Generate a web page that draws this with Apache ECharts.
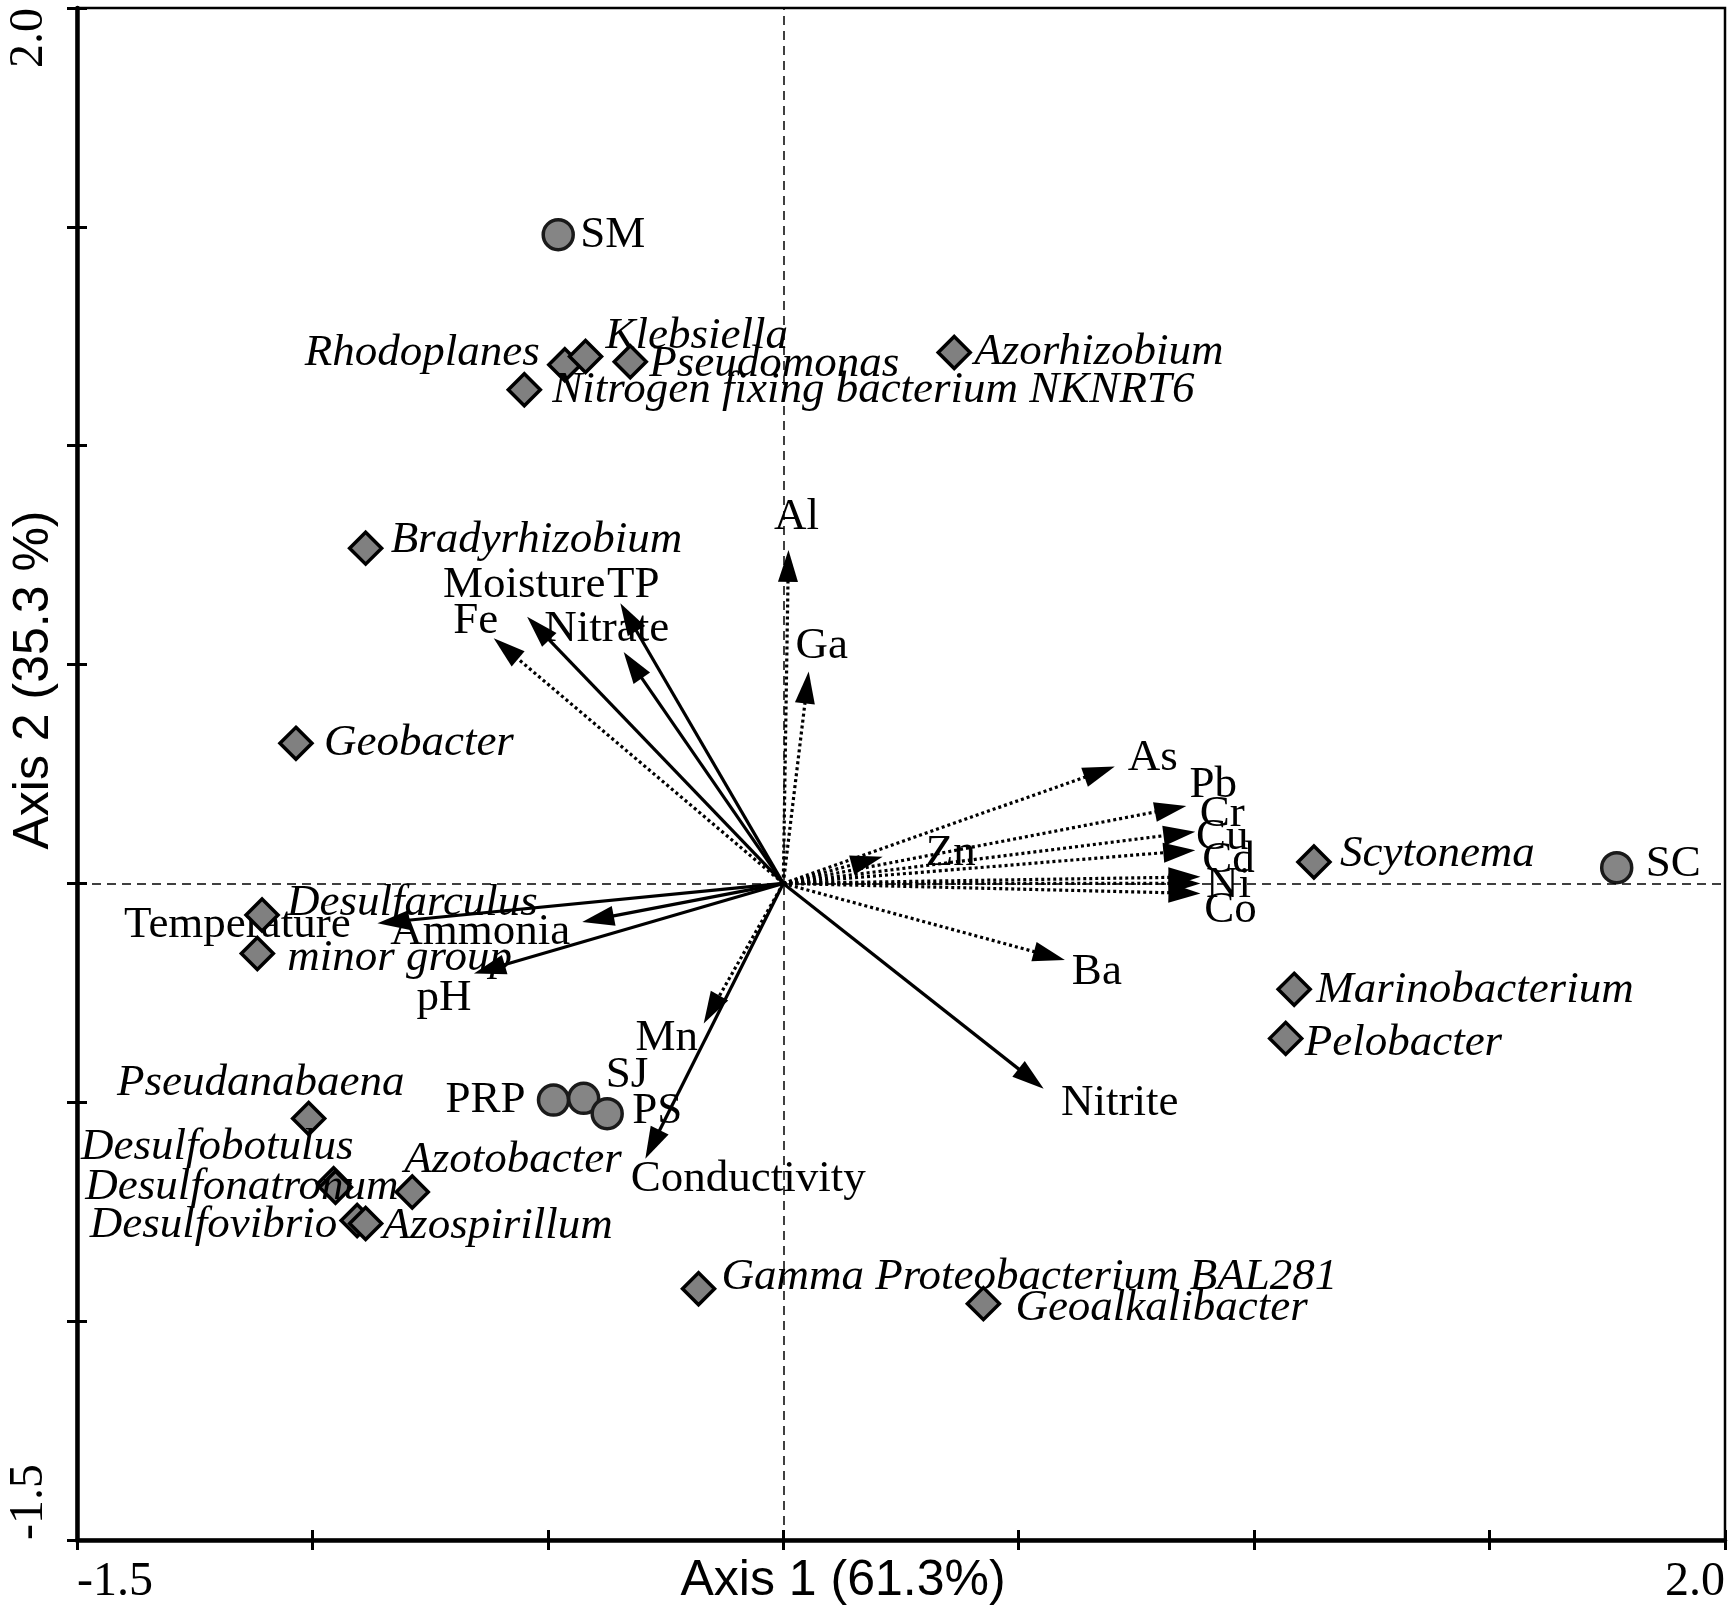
<!DOCTYPE html>
<html>
<head>
<meta charset="utf-8">
<title>CCA biplot</title>
<script src="https://cdn.jsdelivr.net/npm/echarts@6/dist/echarts.min.js"></script>
<style>
html,body{margin:0;padding:0;background:#fff;}
#chartBox{width:1733px;height:1610px;}
</style>
</head>
<body>
<div id="chartBox"></div>
<script>
// 样点
var siteNames=["SM","SC","PRP","SJ","PS"];
var siteX=[-0.478,1.770,-0.488,-0.424,-0.374];
var siteY=[1.482,0.036,-0.495,-0.491,-0.526];

// 物种
var speciesNames=["Rhodoplanes","Klebsiella","Pseudomonas","Nitrogen fixing bacterium NKNRT6","Azorhizobium",
    "Bradyrhizobium","Geobacter","Desulfarculus","minor group","Scytonema","Marinobacterium","Pelobacter",
    "Pseudanabaena","Desulfobotulus","Desulfonatronum","Azotobacter","Desulfovibrio","Azospirillum",
    "Gamma Proteobacterium BAL281","Geoalkalibacter"];
var speciesX=[-0.464,-0.420,-0.325,-0.550,0.363,-0.887,-1.035,-1.107,-1.117,1.127,1.085,1.067,
    -1.008,-0.955,-0.951,-0.788,-0.905,-0.887,-0.180,0.425];
var speciesY=[1.185,1.204,1.192,1.128,1.213,0.766,0.320,-0.072,-0.160,0.049,-0.242,-0.354,
    -0.537,-0.686,-0.694,-0.705,-0.770,-0.777,-0.926,-0.960];

// 环境因子 (箭头末端)
var envNames=["Temperature","Ammonia","pH","Moisture","TP","Nitrate","Fe","Al","Ga","Mn","Conductivity",
    "Nitrite","Ba","As","Pb","Cr","Cu","Cd","Ni","Co","Zn"];
var envX=[-0.862,-0.427,-0.657,-0.544,-0.346,-0.339,-0.615,0.011,0.054,-0.169,-0.293,
    0.553,0.598,0.704,0.856,0.875,0.875,0.886,0.886,0.886,0.211];
var envY=[-0.091,-0.088,-0.206,0.609,0.640,0.529,0.560,0.762,0.484,-0.320,-0.629,
    -0.469,-0.175,0.267,0.177,0.118,0.076,0.015,0.000,-0.023,0.061];
var envSolid=[1,1,1,1,1,1,0,0,0,0,1,1,0,0,0,0,0,0,0,0,0];

var xTickLabels=["-1.5","","","","","","","2.0"];
var yTickLabels=["-1.5","","","","","","","2.0"];

// 标签摆放 [对齐, dx, dy] (像素)
var siteLabelPos=[["left",22,0],["left",29,-3],["right",-28,0],["left",22,-23],["left",25,-2]];
var speciesLabelPos=[["right",-25,-12],["left",20,-20],["left",19,2],["left",28,0],["left",20,0],
    ["left",25,-8],["left",28,0],["left",25,-12],["left",30,5],["left",26,-8],["left",22,1],["left",19,5],
    ["center",-48,-35],["right",20,-37],["right",63,0],["left",-8,-32],["right",-20,5],["left",17,3],
    ["left",23,-12],["left",32,5]];
var envLabelPos=[[-140,2],[-102,10],[-30,25],[-3,-32],[13,-18],[-17,-23],[-18,-17],[8,-33],[13,-25],
    [-37,15],[103,20],[76,14],[32,12],[38,-8],[27,-21],[27,-18],[27,-13],[28,-17],[28,2],[30,17],[68,-4]];

var serif='"Liberation Serif","Times New Roman",serif';
var sans='"Liberation Sans",Arial,sans-serif';
var labelSize=45;

function tickFmt(list,min,step){
    return function(v){
        var idx=Math.round((v-min)/step);
        return list[idx]||'';
    };
};

function buildPoints(names,xs,ys,pos){
    var arr=[];
    for(var i=0;i<names.length;i++){
        arr.push({
            name:names[i],
            value:[xs[i],ys[i]],
            label:{align:pos[i][0],offset:[pos[i][1],pos[i][2]]}
        });
    };
    return arr;
};

function renderArrow(params,api){
    var i=params.dataIndex;
    var o=api.coord([0,0]);
    var p=api.coord([api.value(0),api.value(1)]);
    var dx=p[0]-o[0],dy=p[1]-o[1];
    var len=Math.sqrt(dx*dx+dy*dy);
    var ux=dx/len,uy=dy/len;
    var headL=Math.min(32,len*0.6),headW=10;
    var bx=p[0]-ux*headL,by=p[1]-uy*headL;
    var solid=api.value(2)===1;
    var lp=envLabelPos[i];
    return {
        type:'group',
        children:[
            {
                type:'line',
                shape:{x1:o[0],y1:o[1],x2:bx+ux*4,y2:by+uy*4},
                style:{stroke:'#000',lineWidth:3.2,lineDash:solid?null:[3,3]}
            },
            {
                type:'polygon',
                shape:{points:[[p[0],p[1]],[bx-uy*headW,by+ux*headW],[bx+uy*headW,by-ux*headW]]},
                style:{fill:'#000'}
            },
            {
                type:'text',
                x:p[0]+lp[0],
                y:p[1]+lp[1],
                style:{text:envNames[i],fill:'#000',font:labelSize+'px '+serif,align:'center',verticalAlign:'middle'}
            }
        ]
    };
};

function echart_CCA(id){
    var myChart=echarts.init(document.getElementById(id));

    var envData=[];
    for(var i=0;i<envNames.length;i++){
        envData.push([envX[i],envY[i],envSolid[i]]);
    };

    var axisBase={
        type:'value',
        splitLine:{show:false},
        axisLine:{show:true,onZero:false,lineStyle:{color:'#000',width:4.5}},
        axisTick:{show:true,inside:false,length:10,lineStyle:{color:'#000',width:3}}
    };

    var option={
        backgroundColor:'#fff',
        animation:false,
        grid:{
            left:77,right:8,top:8,bottom:70,
            show:true,borderColor:'#000',borderWidth:2.5,
            containLabel:false,outerBoundsMode:'none'
        },
        xAxis:[
            echarts.util.merge({
                min:-1.5,max:2,interval:0.5,position:'bottom',
                axisLabel:{
                    formatter:tickFmt(xTickLabels,-1.5,0.5),
                    color:'#000',fontFamily:serif,fontSize:48,margin:18,
                    showMinLabel:true,showMaxLabel:true,
                    alignMinLabel:'left',alignMaxLabel:'right'
                },
                name:'Axis 1 (61.3%)',
                nameLocation:'middle',
                nameGap:16,
                nameMoveOverlap:false,
                nameTextStyle:{color:'#000',fontFamily:sans,fontSize:50,padding:[0,116,0,0]}
            },axisBase,false),
            echarts.util.merge({
                min:-1.5,max:2,interval:0.5,position:'bottom',
                axisLine:{show:false},
                axisTick:{inside:true},
                axisLabel:{show:false}
            },axisBase,false)
        ],
        yAxis:[
            echarts.util.merge({
                min:-1.5,max:2,interval:0.5,position:'left',
                axisLabel:{
                    formatter:tickFmt(yTickLabels,-1.5,0.5),
                    color:'#000',fontFamily:serif,fontSize:48,margin:24,rotate:90,
                    showMinLabel:true,showMaxLabel:true,
                    alignMinLabel:'left',alignMaxLabel:'right'
                },
                name:'Axis 2 (35.3 %)',
                nameLocation:'middle',
                nameRotate:90,
                nameGap:18,
                nameMoveOverlap:false,
                nameTextStyle:{color:'#000',fontFamily:sans,fontSize:50,padding:[0,0,0,188]}
            },axisBase,false),
            echarts.util.merge({
                min:-1.5,max:2,interval:0.5,position:'left',
                axisLine:{show:false},
                axisTick:{inside:true},
                axisLabel:{show:false}
            },axisBase,false)
        ],
        series:[
            {
                name:'ref',
                type:'scatter',
                data:[],
                z:1,
                markLine:{
                    silent:true,
                    symbol:'none',
                    label:{show:false},
                    lineStyle:{color:'#000',width:1.5,type:[9,6]},
                    data:[{xAxis:0},{yAxis:0}]
                }
            },
            {
                name:'env',
                type:'custom',
                z:2,
                renderItem:renderArrow,
                encode:{x:0,y:1},
                data:envData
            },
            {
                name:'species',
                type:'scatter',
                z:3,
                symbol:'diamond',
                symbolSize:32,
                itemStyle:{color:'#808080',borderColor:'#000',borderWidth:3.5,opacity:1},
                label:{
                    show:true,position:'inside',formatter:'{b}',
                    color:'#000',fontFamily:serif,fontStyle:'italic',fontSize:labelSize,verticalAlign:'middle'
                },
                data:buildPoints(speciesNames,speciesX,speciesY,speciesLabelPos)
            },
            {
                name:'sites',
                type:'scatter',
                z:3,
                symbol:'circle',
                symbolSize:30,
                itemStyle:{color:'#858585',borderColor:'#1a1a1a',borderWidth:3.5,opacity:1},
                label:{
                    show:true,position:'inside',formatter:'{b}',
                    color:'#000',fontFamily:serif,fontSize:labelSize,verticalAlign:'middle'
                },
                data:buildPoints(siteNames,siteX,siteY,siteLabelPos)
            }
        ]
    };

    myChart.setOption(option);
};

echart_CCA("chartBox");
</script>
</body>
</html>
